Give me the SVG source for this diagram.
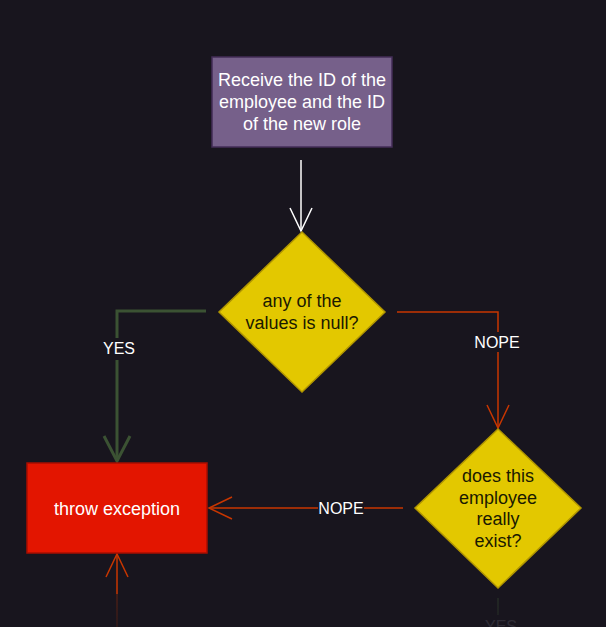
<svg xmlns="http://www.w3.org/2000/svg" width="606" height="627" viewBox="0 0 606 627">
<style>
.lbl{font-family:"Liberation Sans",Arial,sans-serif;font-size:16px;text-anchor:middle;}
.nt{font-family:"Liberation Sans",Arial,sans-serif;font-size:18px;text-anchor:middle;}
.w{fill:#ffffff;}
.d{fill:#1a1a00;}
.edge{fill:none;stroke-linecap:butt;}
</style>
<defs>
<linearGradient id="fade" x1="0" y1="0" x2="0" y2="1">
<stop offset="0" stop-color="#18151e" stop-opacity="0.7"/>
<stop offset="1" stop-color="#18151e" stop-opacity="0.85"/>
</linearGradient>
</defs>
<rect width="606" height="627" fill="#18151e"/>
<g id="connectors">
<path class="edge" d="M301,160 V231" stroke="#ffffff" stroke-width="1.5"/>
<path class="edge" d="M290,208 L301,231 L312,208" stroke="#ffffff" stroke-width="1.5"/>
<path class="edge" d="M206,311 H117 V461" stroke="#3b5233" stroke-width="3"/>
<path class="edge" d="M104,436 L117,461 L130,436" stroke="#3b5233" stroke-width="3"/>
<rect x="100" y="338" width="36" height="22" fill="#18151e"/>
<text class="lbl w" x="119" y="354">YES</text>
<path class="edge" d="M397,312 H498 V428" stroke="#c83600" stroke-width="1.5"/>
<path class="edge" d="M487,405 L498,428 L509,405" stroke="#c83600" stroke-width="1.5"/>
<rect x="472" y="332" width="52" height="20" fill="#18151e"/>
<text class="lbl w" x="497" y="348">NOPE</text>
<path class="edge" d="M403,508 H209" stroke="#c83600" stroke-width="1.5"/>
<path class="edge" d="M232,497 L209,508 L232,519" stroke="#c83600" stroke-width="1.5"/>
<rect x="318" y="500" width="46" height="17" fill="#18151e"/>
<text class="lbl w" x="341" y="514">NOPE</text>
<path class="edge" d="M117,627 V554" stroke="#c83600" stroke-width="1.5"/>
<path class="edge" d="M106,577 L117,554 L128,577" stroke="#c83600" stroke-width="1.5"/>
<path class="edge" d="M498,598 V615" stroke="#3b5233" stroke-width="2"/>
<text class="lbl" x="501" y="632" fill="#9a9aa8">YES</text>
</g>
<g id="n1">
<rect x="212" y="57" width="180" height="90" fill="#76608a" stroke="#432d57" stroke-width="1.5"/>
<text class="nt w" x="302" y="86">Receive the ID of the</text>
<text class="nt w" x="302" y="108">employee and the ID</text>
<text class="nt w" x="302" y="130">of the new role</text>
</g>
<g id="n2">
<path d="M302,232 L385,312 L302,392 L219,312 Z" fill="#e3c800" stroke="#b09500" stroke-width="1.5"/>
<text class="nt d" x="302" y="307">any of the</text>
<text class="nt d" x="302" y="329">values is null?</text>
</g>
<g id="n3">
<path d="M498,429 L581,508 L498,588 L415,508 Z" fill="#e3c800" stroke="#b09500" stroke-width="1.5"/>
<text class="nt d" x="498" y="482">does this</text>
<text class="nt d" x="498" y="504">employee</text>
<text class="nt d" x="498" y="525">really</text>
<text class="nt d" x="498" y="547">exist?</text>
</g>
<g id="n4">
<rect x="27" y="463" width="180" height="90" fill="#e31500" stroke="#a80e00" stroke-width="1.5"/>
<text class="nt w" x="117" y="515">throw exception</text>
</g>
<rect x="0" y="594" width="606" height="33" fill="url(#fade)"/>
</svg>
